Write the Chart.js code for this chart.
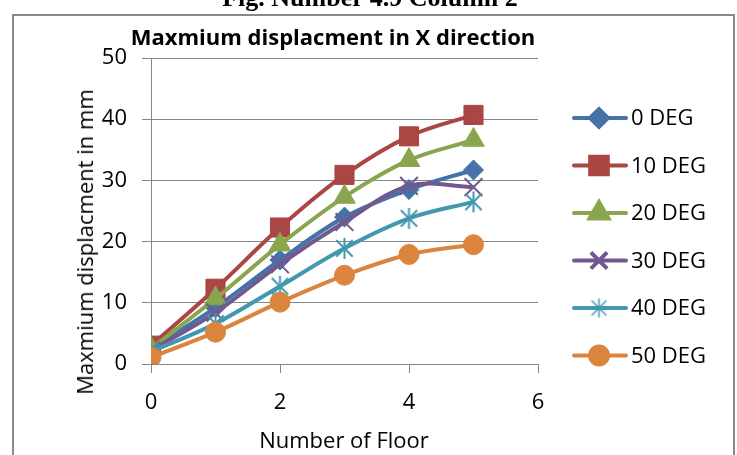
<!DOCTYPE html>
<html>
<head>
<meta charset="utf-8">
<script src="https://cdn.jsdelivr.net/npm/chart.js@4.4.1/dist/chart.umd.min.js"></script>
<style>
  html, body { margin: 0; padding: 0; background: #fff; }
  #wrap { position: relative; width: 737px; height: 455px; overflow: hidden; background: #fff; }
  #frame { position: absolute; left: 12px; top: 14px; width: 719px; height: 470px; border: 2px solid #8a8a8a; }
  #cv { position: absolute; left: 0; top: 0; }
  .txt { position: absolute; white-space: nowrap; color: #000; }
  #caption { left: 370px; top: -15px; transform: translateX(-50%); font: bold 26px/26px "Liberation Serif", "Times New Roman", serif; }
  #title { left: 333px; top: 25px; transform: translateX(-50%); font: bold 22px/22px "Open Sans", sans-serif; }
  #ytitle { left: 84px; top: 242px; transform: translate(-50%, -50%) rotate(-90deg); font: 22px/22px "Open Sans", sans-serif; }
  #xtitle { left: 344px; top: 428px; transform: translateX(-50%); font: 22px/22px "Open Sans", sans-serif; }
</style>
</head>
<body>
<div id="wrap">
  <div id="frame"></div>
  <canvas id="cv" width="737" height="455"></canvas>
  <div class="txt" id="caption">Fig. Number 4.9 Column 2</div>
  <div class="txt" id="title">Maxmium displacment in X direction</div>
  <div class="txt" id="ytitle">Maxmium displacment in mm</div>
  <div class="txt" id="xtitle">Number of Floor</div>
</div>
<script>
// Floor numbers and the maximum X displacement (mm) for each load angle
const floors = [0, 1, 2, 3, 4, 5];
const seriesNames = ['0 DEG', '10 DEG', '20 DEG', '30 DEG', '40 DEG', '50 DEG'];
const deg0  = [2.5, 9.2, 17.0, 24.0, 28.5, 31.7];
const deg10 = [3.0, 12.3, 22.3, 30.9, 37.2, 40.7];
const deg20 = [2.5, 10.7, 19.5, 27.3, 33.3, 36.6];
const deg30 = [2.2, 8.4, 16.3, 23.2, 29.1, 28.9];
const deg40 = [2.0, 6.6, 12.7, 18.9, 23.8, 26.5];
const deg50 = [1.1, 5.2, 10.1, 14.5, 17.9, 19.5];
const xTicks = [0, 2, 4, 6];
const yTicks = [0, 10, 20, 30, 40, 50];

const colors = ['#4572A7', '#AA4643', '#89A54E', '#71588F', '#4198AF', '#DB843D'];
const gridColor = '#868686';

// Asterisk marker: vertical stroke plus an X
function starMarker(color, r, lw) {
  const c = document.createElement('canvas');
  const s = Math.ceil(2 * r + lw + 2);
  c.width = c.height = s;
  const g = c.getContext('2d');
  g.strokeStyle = color;
  g.lineWidth = lw;
  const m = s / 2, d = r * 0.78;
  g.beginPath();
  g.moveTo(m, m - r); g.lineTo(m, m + r);
  g.moveTo(m - d, m - d); g.lineTo(m + d, m + d);
  g.moveTo(m - d, m + d); g.lineTo(m + d, m - d);
  g.stroke();
  return c;
}

const values = [deg0, deg10, deg20, deg30, deg40, deg50];
const styles = [
  { pointStyle: 'rectRot', radius: 10, bw: 1 },
  { pointStyle: 'rect', radius: 13.5, bw: 1 },
  { pointStyle: 'triangle', radius: 12.5, bw: 1 },
  { pointStyle: 'crossRot', radius: 12.5, bw: 2 },
  { pointStyle: starMarker(colors[4], 10.5, 2), radius: 10, bw: 2 },
  { pointStyle: 'circle', radius: 10, bw: 1 }
];
const legendStyles = [
  { pointStyle: 'rectRot', radius: 9, bw: 1 },
  { pointStyle: 'rect', radius: 12.5, bw: 1 },
  { pointStyle: 'triangle', radius: 11, bw: 1 },
  { pointStyle: 'crossRot', radius: 11.5, bw: 1.5 },
  { pointStyle: starMarker(colors[4], 9.5, 1.5), radius: 9, bw: 1.5 },
  { pointStyle: 'circle', radius: 9, bw: 1 }
];

const datasets = values.map((vals, i) => ({
  label: seriesNames[i],
  data: floors.map((f, k) => ({ x: f, y: vals[k] })),
  borderColor: colors[i],
  backgroundColor: colors[i],
  borderWidth: 4,
  tension: 0.35,
  pointStyle: styles[i].pointStyle,
  pointRadius: styles[i].radius,
  pointBorderWidth: styles[i].bw,
  pointBackgroundColor: colors[i],
  pointBorderColor: colors[i],
  order: values.length - 1 - i
}));

// Legend drawn at the right of the plot: line sample with marker, then label
const sideLegend = {
  id: 'sideLegend',
  afterDraw(chart) {
    const ctx = chart.ctx;
    ctx.save();
    datasets.forEach((ds, i) => {
      const y = 118 + i * 47.5;
      ctx.strokeStyle = ds.borderColor;
      ctx.lineWidth = 4;
      ctx.lineCap = 'round';
      ctx.beginPath();
      ctx.moveTo(574, y);
      ctx.lineTo(626, y);
      ctx.stroke();
      ctx.fillStyle = ds.borderColor;
      ctx.strokeStyle = ds.borderColor;
      ctx.lineCap = 'butt';
      const ls = legendStyles[i];
      Chart.helpers.drawPoint(ctx, {
        pointStyle: ls.pointStyle, radius: ls.radius, borderWidth: ls.bw, rotation: 0
      }, 599, y);
      ctx.fillStyle = '#000';
      ctx.font = '22px "Open Sans", sans-serif';
      ctx.textAlign = 'left';
      ctx.textBaseline = 'middle';
      ctx.fillText(ds.label, 631, y + 1);
    });
    ctx.restore();
  }
};

new Chart(document.getElementById('cv'), {
  type: 'line',
  data: { datasets },
  options: {
    responsive: false,
    animation: false,
    layout: { padding: { left: 0, top: 58, right: 199, bottom: 0 } },
    plugins: { legend: { display: false }, tooltip: { enabled: false }, title: { display: false } },
    scales: {
      x: {
        type: 'linear',
        min: xTicks[0],
        max: xTicks[xTicks.length - 1],
        afterBuildTicks: s => { s.ticks = xTicks.map(v => ({ value: v })); },
        afterFit: s => { s.height = 91; },
        grid: { drawOnChartArea: false, drawTicks: true, tickLength: 9, color: gridColor, lineWidth: 1 },
        border: { color: gridColor, width: 1 },
        ticks: { color: '#000', font: { family: 'Open Sans', size: 22 }, padding: 17, maxRotation: 0 }
      },
      y: {
        type: 'linear',
        min: yTicks[0],
        max: yTicks[yTicks.length - 1],
        afterBuildTicks: s => { s.ticks = yTicks.map(v => ({ value: v })); },
        afterFit: s => { s.width = 151; },
        grid: { drawTicks: true, tickLength: 9, color: gridColor, lineWidth: 1 },
        border: { color: gridColor, width: 1 },
        ticks: { color: '#000', font: { family: 'Open Sans', size: 22 }, padding: 15 }
      }
    }
  },
  plugins: [sideLegend]
});
</script>
</body>
</html>
